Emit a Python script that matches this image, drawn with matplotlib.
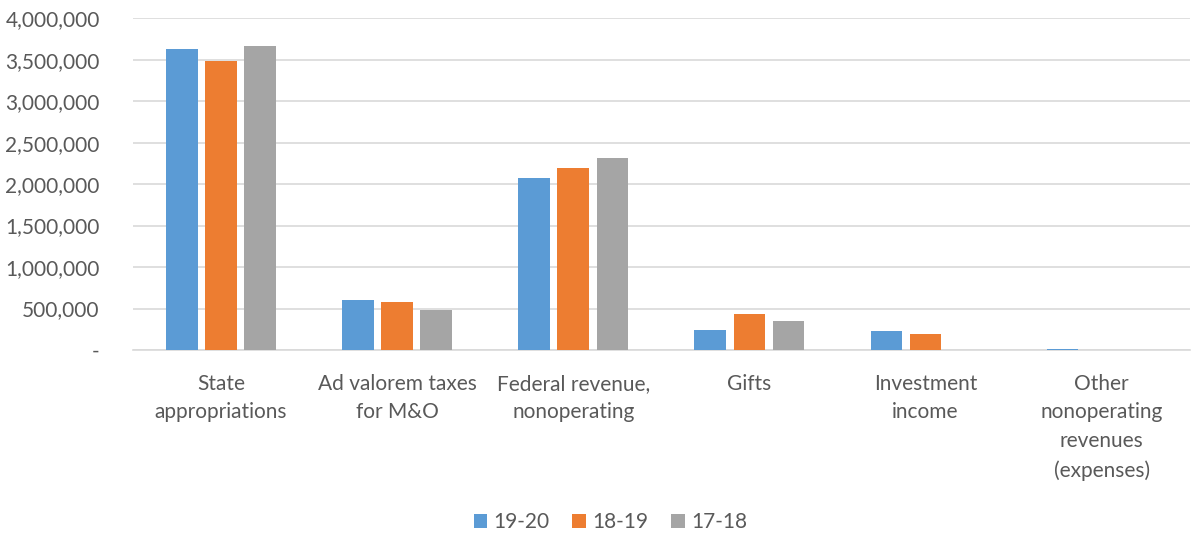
import numpy as np
import matplotlib
matplotlib.use('Agg')
import matplotlib.pyplot as plt
from matplotlib.ticker import FuncFormatter

categories = ['State\nappropriations', 'Ad valorem taxes\nfor M&O', 'Federal revenue,\nnonoperating',
              'Gifts', 'Investment\nincome', 'Other\nnonoperating\nrevenues\n(expenses)']
fy_19_20 = [3627000, 602000, 2076000, 241000, 229000, 9000]
fy_18_19 = [3482000, 578000, 2193000, 434000, 196000, 0]
fy_17_18 = [3663000, 482000, 2309000, 349000, 5000, 0]
series_names = ['19-20', '18-19', '17-18']
colors = ['#5B9BD5', '#ED7D31', '#A5A5A5']

plt.rcParams['font.family'] = ['Lato', 'DejaVu Sans']
text_color = '#595959'

fig = plt.figure(figsize=(11.92, 5.36), dpi=100)
ax = fig.add_axes([0.1116, 0.347, 0.8864, 0.619])

x = np.arange(len(categories))
w = 0.18
offs = [-0.222, 0, 0.222]
for vals, off, c, name in zip([fy_19_20, fy_18_19, fy_17_18], offs, colors, series_names):
    ax.bar(x + off, vals, w, color=c, label=name, zorder=3)

ax.set_xlim(-0.5, len(categories) - 0.5)
ax.set_ylim(0, 4000000)
ax.set_yticks(np.arange(0, 4000001, 500000))
ax.yaxis.set_major_formatter(FuncFormatter(lambda v, p: '-' if v == 0 else '{:,.0f}'.format(v)))
ax.grid(axis='y', color='#d9d9d9', linewidth=1.2, zorder=0)
for s in ['top', 'right', 'left']:
    ax.spines[s].set_visible(False)
ax.spines['bottom'].set_color('#d9d9d9')
ax.spines['bottom'].set_linewidth(1.2)
ax.tick_params(axis='both', length=0, labelsize=15, colors=text_color)
ax.tick_params(axis='y', pad=24)
ax.tick_params(axis='x', pad=17)
ax.set_xticks(x)
ax.set_xticklabels(categories, linespacing=1.55)

fig.legend(loc='lower center', bbox_to_anchor=(0.512, -0.028), ncol=3, frameon=False,
           fontsize=15, handlelength=0.65, handleheight=0.65, handletextpad=0.3,
           columnspacing=1.1, labelcolor=text_color)

fig.savefig('out.png', dpi=100)
